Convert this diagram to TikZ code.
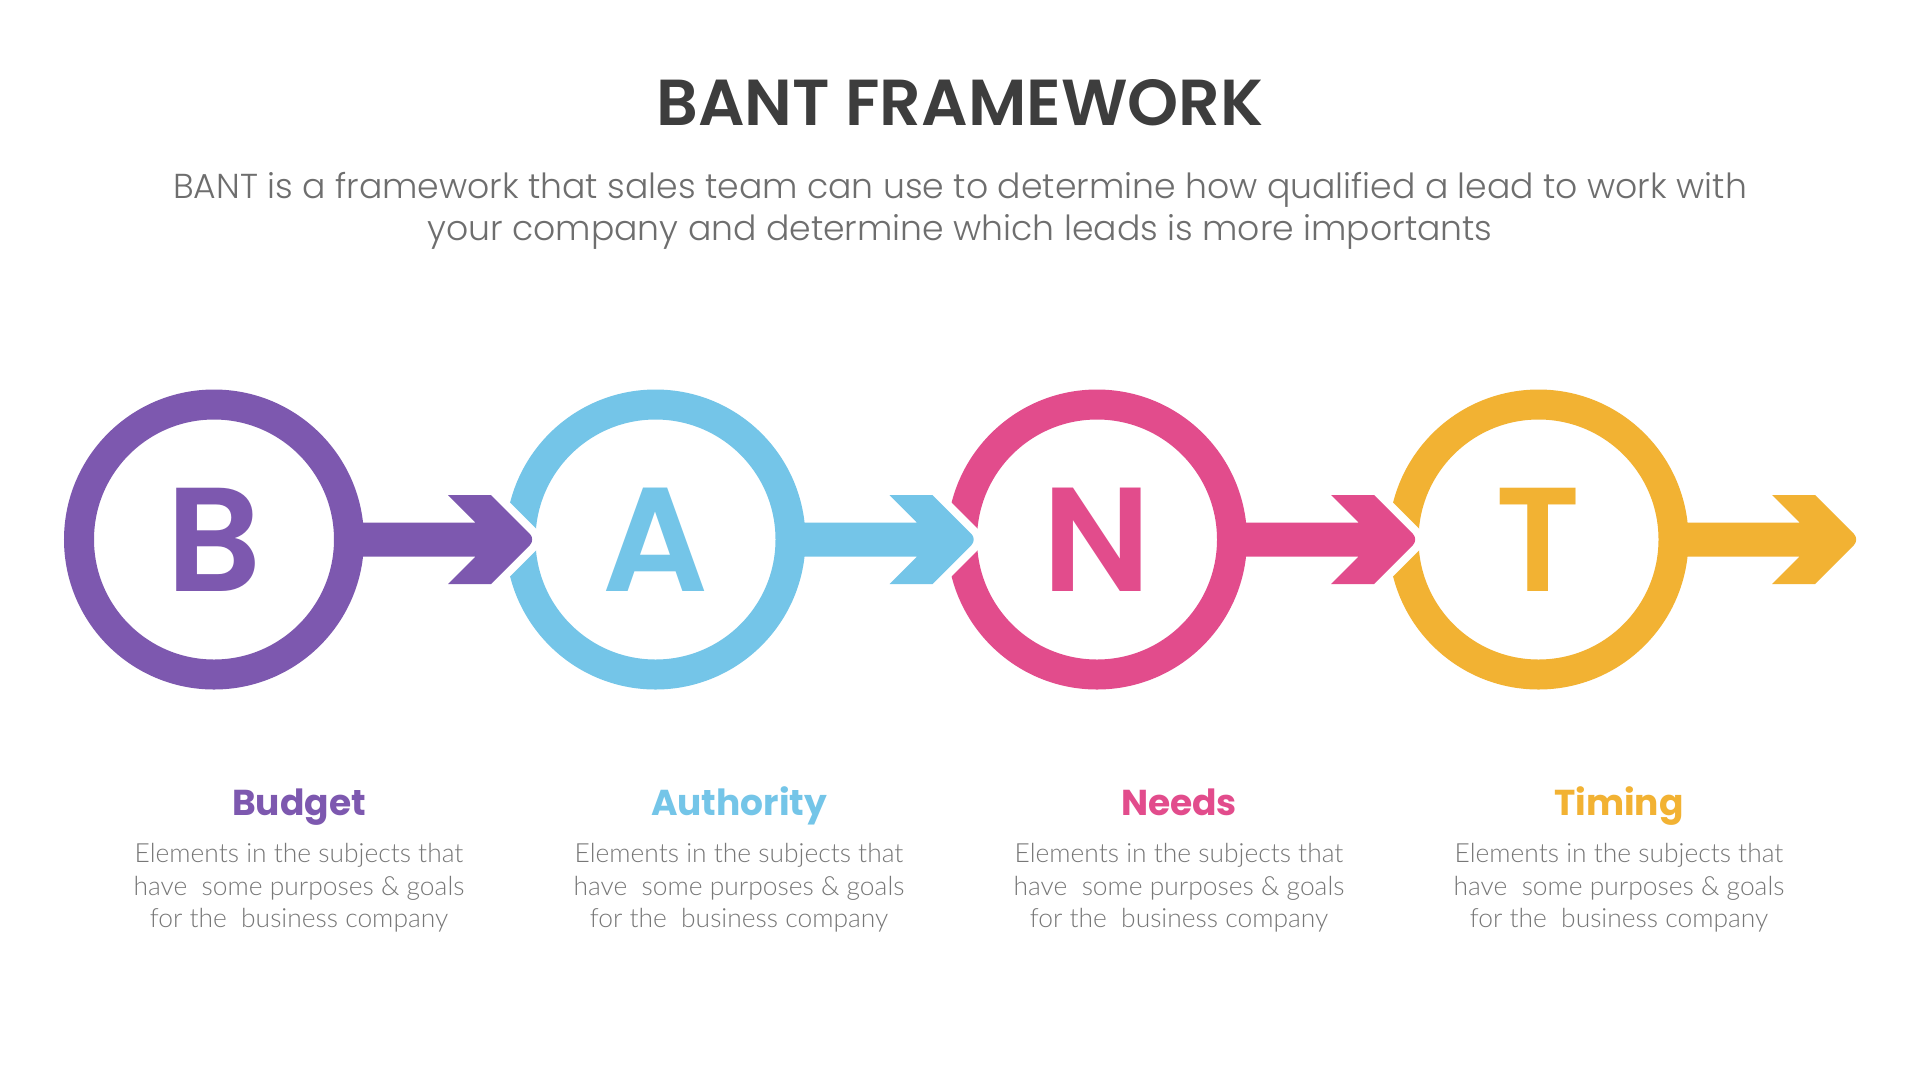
\documentclass[tikz,border=0pt]{standalone}
\usepackage{fontspec}
\usetikzlibrary{calc}
\setmainfont{Poppins}
\newfontfamily\popsemi{Poppins SemiBold}
\newfontfamily\popbold{Poppins}[UprightFont=* Bold]
\newfontfamily\poplight{Poppins Light}
\newfontfamily\latolight{Lato Light}
\definecolor{cB}{HTML}{7D58AF}
\definecolor{cA}{HTML}{74C5E8}
\definecolor{cN}{HTML}{E24C8C}
\definecolor{cT}{HTML}{F2B233}
\definecolor{titlegray}{HTML}{3D3D3D}
\definecolor{subgray}{HTML}{6E6E6E}
\definecolor{bodygray}{HTML}{777777}
\tikzset{
  ring/.style={circle, draw=#1, text=#1, line width=30pt, minimum size=270pt, inner sep=0pt,
    font=\popsemi\fontsize{148}{148}\selectfont},
  headlabel/.style={anchor=base, text=#1, font=\popbold\fontsize{36}{36}\selectfont},
  bodytext/.style={anchor=base, text=bodygray, align=center,
    font=\latolight\fontsize{26.4}{32.5}\selectfont},
}
\newcommand\bantarrow[3]{%
  % #1 source node, #2 tip coordinate, #3 colour
  \fill[white, draw=white, line width=16pt, line join=round]
    ($(#2)+(-60,-17)$) -- ($(#2)+(-87.5,-44.5)$) -- ($(#2)+(-44.5,-44.5)$)
    -- (#2) -- ($(#2)+(-44.5,44.5)$) -- ($(#2)+(-87.5,44.5)$) -- ($(#2)+(-60,17)$) -- cycle;
  \fill[#3]
    ($(#1.east)+(-5,-17)$) -- ($(#2)+(-60,-17)$) -- ($(#2)+(-87.5,-44.5)$) -- ($(#2)+(-44.5,-44.5)$)
    [rounded corners=8pt] -- (#2) [sharp corners] -- ($(#2)+(-44.5,44.5)$) -- ($(#2)+(-87.5,44.5)$)
    -- ($(#2)+(-60,17)$) -- ($(#1.east)+(-5,17)$) -- cycle;
}
\begin{document}
\begin{tikzpicture}[x=1pt, y=-1pt]
\useasboundingbox[fill=white] (0,0) rectangle (1920,1080);

\node[anchor=base, text=titlegray, font=\popsemi\fontsize{65}{65}\selectfont] (title) at (960,125) {BANT FRAMEWORK};
\node[anchor=base, text=subgray, font=\poplight\fontsize{34.6}{34.6}\selectfont] (sub1) at (960,198)
  {BANT is a framework that sales team can use to determine how qualified a lead to work with};
\node[anchor=base, text=subgray, font=\poplight\fontsize{34.6}{34.6}\selectfont] (sub2) at (960,240)
  {your company and determine which leads is more importants};

\node[ring=cB] (b) at (214,539.5) {B};
\node[ring=cA] (a) at (655.5,539.5) {A};
\node[ring=cN] (n) at (1097,539.5) {N};
\node[ring=cT] (t) at (1538.5,539.5) {T};

\coordinate (tipA) at ($(a.west)+(30,0)$);
\coordinate (tipN) at ($(n.west)+(30,0)$);
\coordinate (tipT) at ($(t.west)+(30,0)$);
\coordinate (tipEnd) at ($(t.center)+(321,0)$);

\bantarrow{b}{tipA}{cB}
\bantarrow{a}{tipN}{cA}
\bantarrow{n}{tipT}{cN}
\bantarrow{t}{tipEnd}{cT}

\node[headlabel=cB] (hb) at (299,815) {Budget};
\node[headlabel=cA] (ha) at (739,815) {Authority};
\node[headlabel=cN] (hn) at (1179,815) {Needs};
\node[headlabel=cT] (ht) at (1619,815) {Timing};

\foreach \nm/\x in {db/299, da/739, dn/1179, dt/1619}{
  \node[bodytext] (\nm) at (\x,927.5) {Elements in the subjects that\\have\ \ some purposes \& goals\\for the\ \ business company};
}
\end{tikzpicture}
\end{document}
